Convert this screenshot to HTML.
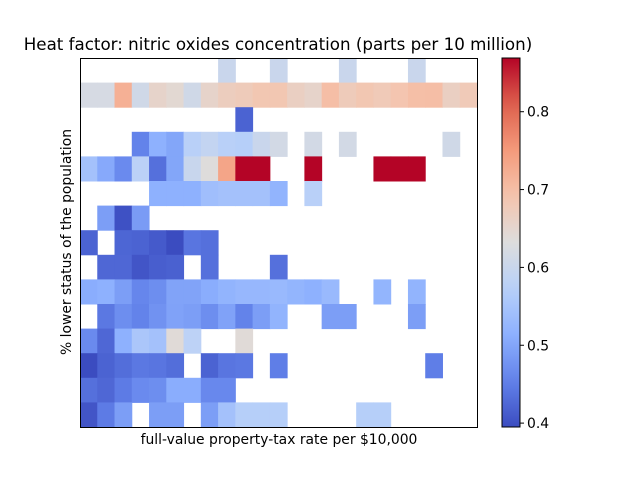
<!DOCTYPE html>
<html><head><meta charset="utf-8"><style>
body{margin:0;background:#fff;font-family:"Liberation Sans","DejaVu Sans",sans-serif;}
svg text{font-family:"DejaVu Sans","Liberation Sans",sans-serif;fill:#000;}
</style></head><body>
<svg id="chart" width="640" height="480" xmlns="http://www.w3.org/2000/svg">
<rect width="640" height="480" fill="#fff"/>
<text x="278" y="50" font-size="16.7" text-anchor="middle">Heat factor: nitric oxides concentration (parts per 10 million)</text>
<g id="cells"></g>
<rect x="80.5" y="58.5" width="397" height="369" fill="none" stroke="#000" stroke-width="1"/>
<text x="279" y="444" font-size="13.9" text-anchor="middle">full-value property-tax rate per $10,000</text>
<text transform="translate(71,242) rotate(-90)" font-size="13.9" text-anchor="middle">% lower status of the population</text>
<defs><linearGradient id="cg" x1="0" y1="1" x2="0" y2="0"></linearGradient></defs>
<rect x="502" y="58" width="18" height="369" fill="url(#cg)" stroke="#000" stroke-width="1"/>
<g id="cbticks"></g>
</svg>
<script>
const vmin = 0.395, vmax = 0.869;
const nCols = 23;
const colorbarTicks = [0.4, 0.5, 0.6, 0.7, 0.8];
const N = null;
const row0 = [N,N,N,N,N,N,N,N,0.60,N,N,0.60,N,N,N,0.60,N,N,N,0.60,N,N,N];
const row1 = [0.62,0.62,0.72,0.61,0.655,0.645,0.61,0.655,0.67,0.675,0.685,0.685,0.665,0.655,0.70,0.675,0.685,0.678,0.688,0.698,0.70,0.665,0.678];
const row2 = [N,N,N,N,N,N,N,N,N,0.42,N,N,N,N,N,N,N,N,N,N,N,N,N];
const row3 = [N,N,N,0.455,0.515,0.50,0.575,0.59,0.575,0.57,0.60,0.615,N,0.615,N,0.615,N,N,N,N,N,0.61,N];
const row4 = [0.545,0.505,0.465,0.578,0.435,0.50,0.598,0.635,0.735,0.87,0.87,N,N,0.87,N,N,N,0.87,0.87,0.87,N,N,N];
const row5 = [N,N,N,N,0.515,0.515,0.515,0.54,0.545,0.545,0.545,0.52,N,0.575,N,N,N,N,N,N,N,N,N];
const row6 = [N,0.49,0.40,0.487,N,N,N,N,N,N,N,N,N,N,N,N,N,N,N,N,N,N,N];
const row7 = [0.42,N,0.423,0.42,0.41,0.395,0.44,0.435,N,N,N,N,N,N,N,N,N,N,N,N,N,N,N];
const row8 = [N,0.425,0.425,0.405,0.415,0.418,N,0.435,N,N,N,0.435,N,N,N,N,N,N,N,N,N,N,N];
const row9 = [0.51,0.515,0.49,0.46,0.47,0.497,0.497,0.51,0.52,0.527,0.527,0.53,0.522,0.515,0.53,N,N,0.522,N,0.52,N,N,N];
const row10 = [N,0.443,0.47,0.455,0.475,0.495,0.49,0.47,0.495,0.455,0.49,0.52,N,N,0.49,0.49,N,N,N,0.49,N,N,N];
const row11 = [0.465,0.425,0.515,0.555,0.545,0.64,0.58,N,N,0.64,N,N,N,N,N,N,N,N,N,N,N,N,N];
const row12 = [0.395,0.42,0.432,0.443,0.44,0.432,N,0.42,0.44,0.443,N,0.45,N,N,N,N,N,N,N,N,0.45,N,N];
const row13 = [0.435,0.425,0.447,0.465,0.47,0.51,0.51,0.462,0.462,N,N,N,N,N,N,N,N,N,N,N,N,N,N];
const row14 = [0.405,0.447,0.49,N,0.49,0.49,N,0.49,0.545,0.57,0.57,0.57,N,N,N,N,0.57,0.57,N,N,N,N,N];
const rows = [row0,row1,row2,row3,row4,row5,row6,row7,row8,row9,row10,row11,row12,row13,row14];

const cw = [[0,59,76,192],[0.125,98,130,234],[0.25,141,176,254],[0.375,184,208,249],[0.5,221,221,221],[0.625,245,196,173],[0.75,244,154,123],[0.875,222,96,77],[1,180,4,38]];
function cmap(t){t=Math.max(0,Math.min(1,t));for(let i=1;i<cw.length;i++){if(t<=cw[i][0]){const a=cw[i-1],b=cw[i],f=(t-a[0])/(b[0]-a[0]);return `rgb(${Math.round(a[1]+f*(b[1]-a[1]))},${Math.round(a[2]+f*(b[2]-a[2]))},${Math.round(a[3]+f*(b[3]-a[3]))})`;}}return 'rgb(180,4,38)';}
const px0=80,py0=58,pw=397,ph=369;
const xScale=c=>px0+c*pw/nCols;
const yScale=r=>py0+r*ph/rows.length;
const ns='http://www.w3.org/2000/svg';
const g=document.getElementById('cells');
rows.forEach((row,r)=>row.forEach((v,c)=>{
  if(v===null)return;
  const el=document.createElementNS(ns,'rect');
  el.setAttribute('x',xScale(c));el.setAttribute('y',yScale(r));
  el.setAttribute('width',pw/nCols+0.5);el.setAttribute('height',ph/rows.length+0.5);
  el.setAttribute('fill',cmap((v-vmin)/(vmax-vmin)));
  
  
  g.appendChild(el);
}));
const grad=document.getElementById('cg');
for(let i=0;i<=20;i++){const s=document.createElementNS(ns,'stop');s.setAttribute('offset',i/20);s.setAttribute('stop-color',cmap(i/20));grad.appendChild(s);}
const cy=v=>427-(v-vmin)/(vmax-vmin)*369;
const tg=document.getElementById('cbticks');
colorbarTicks.forEach(v=>{
  const y=cy(v);
  const l=document.createElementNS(ns,'line');
  l.setAttribute('x1',520);l.setAttribute('x2',524);l.setAttribute('y1',y);l.setAttribute('y2',y);l.setAttribute('stroke','#000');
  
  
  tg.appendChild(l);
  const t=document.createElementNS(ns,'text');
  t.setAttribute('x',527);t.setAttribute('y',y+5);t.setAttribute('font-size','13.9');
  t.textContent=v.toFixed(1);
  
  
  tg.appendChild(t);
});
</script>
</body></html>
